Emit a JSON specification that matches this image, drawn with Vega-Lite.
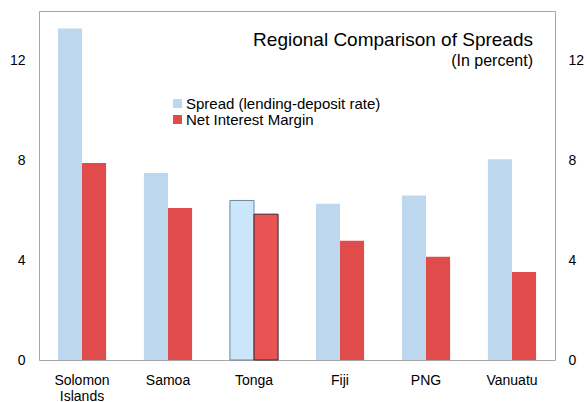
{
  "$schema": "https://vega.github.io/schema/vega-lite/v6.json",
  "width": 516,
  "height": 349,
  "autosize": {"type": "none"},
  "padding": {"left": 39, "top": 11, "right": 32, "bottom": 42},
  "background": "white",
  "config": {
    "font": "Liberation Sans",
    "view": {"stroke": "#A6A6A6", "strokeWidth": 1},
    "axis": {"labelFont": "Liberation Sans", "labelFontSize": 14, "labelColor": "#000000", "grid": false, "ticks": false, "domain": false, "title": null}
  },
  "title": {
    "text": "Regional Comparison of Spreads",
    "subtitle": "(In percent)",
    "anchor": "end",
    "orient": "top",
    "frame": "group",
    "offset": -58,
    "dx": -22,
    "fontSize": 19,
    "fontWeight": "normal",
    "color": "#000000",
    "subtitleFontSize": 16,
    "subtitleColor": "#000000",
    "subtitlePadding": 3,
    "font": "Liberation Sans",
    "subtitleFont": "Liberation Sans"
  },
  "data": {
    "values": [
      {"country": "Solomon Islands", "series": "Spread (lending-deposit rate)", "value": 13.3},
      {"country": "Solomon Islands", "series": "Net Interest Margin", "value": 7.9},
      {"country": "Samoa", "series": "Spread (lending-deposit rate)", "value": 7.5},
      {"country": "Samoa", "series": "Net Interest Margin", "value": 6.1},
      {"country": "Tonga", "series": "Spread (lending-deposit rate)", "value": 6.4},
      {"country": "Tonga", "series": "Net Interest Margin", "value": 5.85},
      {"country": "Fiji", "series": "Spread (lending-deposit rate)", "value": 6.27},
      {"country": "Fiji", "series": "Net Interest Margin", "value": 4.78},
      {"country": "PNG", "series": "Spread (lending-deposit rate)", "value": 6.6},
      {"country": "PNG", "series": "Net Interest Margin", "value": 4.14},
      {"country": "Vanuatu", "series": "Spread (lending-deposit rate)", "value": 8.05},
      {"country": "Vanuatu", "series": "Net Interest Margin", "value": 3.53}
    ]
  },
  "encoding": {
    "x": {
      "field": "country",
      "type": "nominal",
      "sort": ["Solomon Islands", "Samoa", "Tonga", "Fiji", "PNG", "Vanuatu"],
      "scale": {"paddingInner": 0.44, "paddingOuter": 0.22},
      "axis": {"labelAngle": 0, "labelPadding": 13, "labelExpr": "datum.value === 'Solomon Islands' ? ['Solomon', 'Islands'] : datum.value", "labelLineHeight": 16}
    },
    "xOffset": {"field": "series", "type": "nominal", "sort": ["Spread (lending-deposit rate)", "Net Interest Margin"], "scale": {"paddingInner": 0, "paddingOuter": 0}}
  },
  "layer": [
    {
      "mark": {"type": "bar", "strokeWidth": 1},
      "encoding": {
        "y": {"field": "value", "type": "quantitative", "scale": {"domain": [0, 14], "nice": false}, "axis": {"orient": "left", "values": [0, 4, 8, 12], "labelPadding": 14}},
        "color": {
          "condition": [
            {"test": "datum.country === 'Tonga' && datum.series === 'Spread (lending-deposit rate)'", "value": "#C9E6FA"},
            {"test": "datum.country === 'Tonga' && datum.series === 'Net Interest Margin'", "value": "#E85454"}
          ],
          "field": "series",
          "type": "nominal",
          "scale": {"domain": ["Spread (lending-deposit rate)", "Net Interest Margin"], "range": ["#BDD7EE", "#E04B4B"]},
          "legend": {"title": null, "orient": "none", "legendX": 131, "legendY": 85, "symbolType": "square", "symbolSize": 81, "symbolStrokeWidth": 0, "labelFontSize": 15, "labelFont": "Liberation Sans", "labelColor": "#000000", "labelLimit": 0, "rowPadding": 0, "labelOffset": 1}
        },
        "stroke": {
          "condition": [
            {"test": "datum.country === 'Tonga' && datum.series === 'Spread (lending-deposit rate)'", "value": "#6F8899"},
            {"test": "datum.country === 'Tonga'", "value": "#3A2626"}
          ],
          "value": null
        }
      }
    },
    {
      "mark": {"type": "bar", "opacity": 0},
      "encoding": {
        "y": {"field": "value", "type": "quantitative", "scale": {"domain": [0, 14], "nice": false}, "axis": {"orient": "right", "values": [0, 4, 8, 12], "labelPadding": 13}}
      }
    }
  ],
  "resolve": {"axis": {"y": "independent"}}
}
